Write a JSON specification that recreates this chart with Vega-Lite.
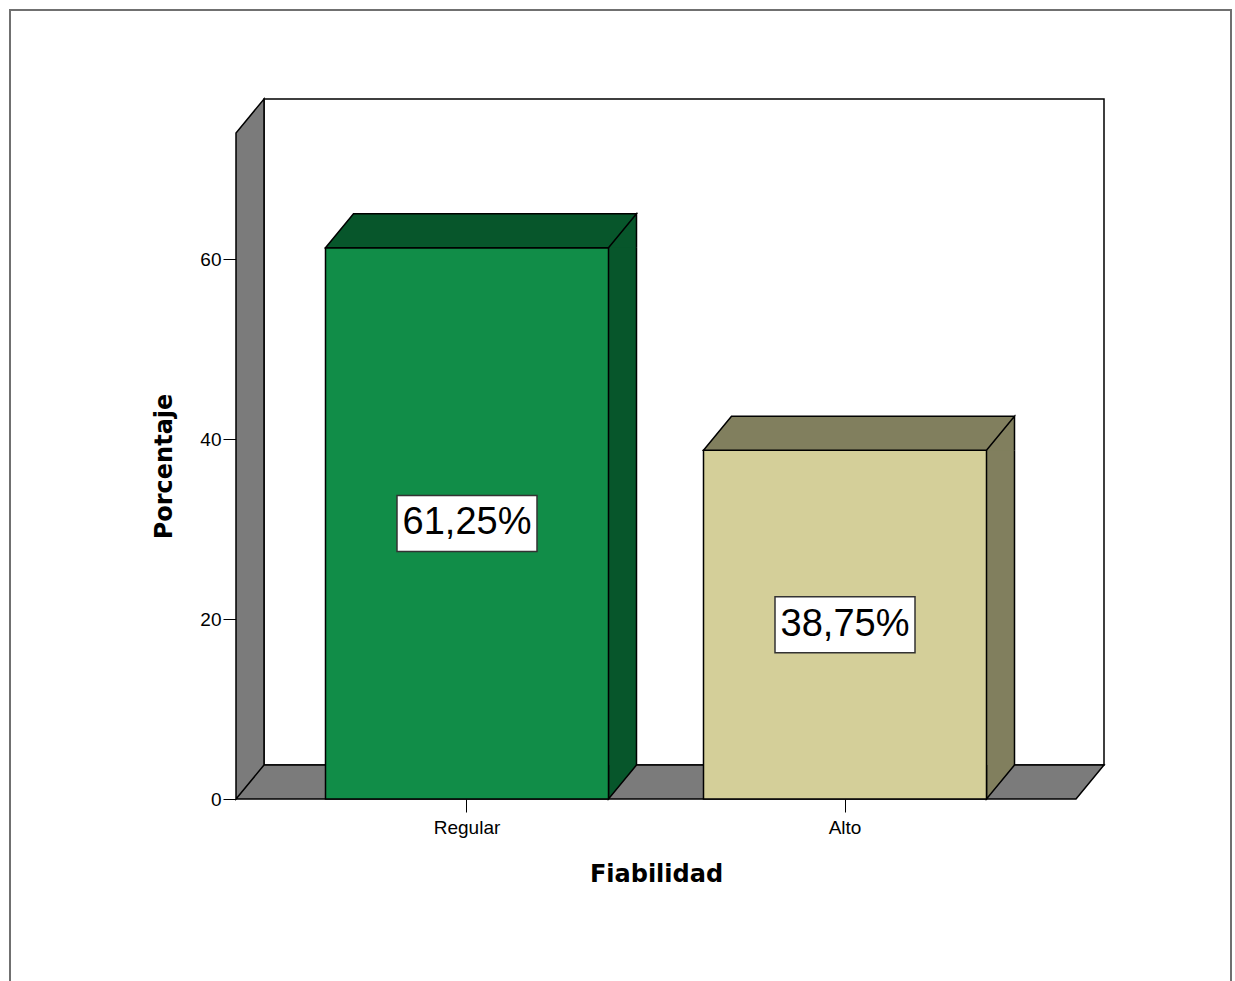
{
  "$schema": "https://vega.github.io/schema/vega-lite/v6.json",
  "width": 840,
  "height": 666,
  "autosize": {"type": "none"},
  "padding": {"left": 236, "top": 133, "right": 159, "bottom": 182},
  "background": "#ffffff",
  "config": {
    "view": {"stroke": null},
    "locale": {
      "number": {"decimal": ",", "thousands": ".", "grouping": [3], "currency": ["", "%"]}
    }
  },
  "data": {
    "values": [
      {"Fiabilidad": "Regular", "Porcentaje": 61.25},
      {"Fiabilidad": "Alto", "Porcentaje": 38.75}
    ]
  },
  "layer": [
    {
      "layer": [
        {
          "data": {"values": [{}]},
          "mark": {"type": "rect", "fill": null, "stroke": "#707070", "strokeWidth": 2, "xOffset": -226, "x2Offset": 155, "yOffset": -123, "y2Offset": 200},
          "encoding": {"x": {"value": 0}, "x2": {"value": "width"}, "y": {"value": 0}, "y2": {"value": "height"}}
        },
        {
          "data": {"values": [{}]},
          "mark": {"type": "rect", "fill": "#ffffff", "stroke": "#000000", "strokeWidth": 1.5, "xOffset": 28, "x2Offset": 28, "yOffset": -34, "y2Offset": -34},
          "encoding": {"x": {"value": 0}, "x2": {"value": "width"}, "y": {"value": 0}, "y2": {"value": "height"}}
        },
        {
          "data": {"values": [{}]},
          "mark": {"type": "point", "shape": "M0,0L28,-34L28,-700L0,-666ZM0,0L28,-34L868,-34L840,0Z", "size": 4, "filled": true, "fill": "#7b7b7b", "stroke": "#000000", "strokeWidth": 1.5, "opacity": 1, "strokeJoin": "miter"},
          "encoding": {"x": {"value": 0}, "y": {"value": "height"}}
        },
        {
          "mark": {"type": "rule", "strokeWidth": 28, "strokeCap": "butt", "xOffset": 155.5, "yOffset": -1, "y2Offset": -34},
          "encoding": {
            "x": {"field": "Fiabilidad", "type": "nominal"},
            "y": {"field": "Porcentaje", "type": "quantitative"},
            "y2": {"datum": 0},
            "stroke": {"condition": {"test": "datum.Fiabilidad === 'Regular'", "value": "#07562b"}, "value": "#817f5e"}
          }
        },
        {
          "mark": {"type": "point", "shape": "M141.5,-34L141.5,0L169.5,-34", "size": 4, "filled": true, "stroke": "#000000", "strokeWidth": 1.5, "opacity": 1},
          "encoding": {
            "x": {"field": "Fiabilidad", "type": "nominal"},
            "y": {"datum": 0},
            "fill": {"condition": {"test": "datum.Fiabilidad === 'Regular'", "value": "#07562b"}, "value": "#817f5e"}
          }
        },
        {
          "mark": {"type": "bar", "stroke": "#000000", "strokeWidth": 1.5},
          "encoding": {
            "x": {
              "field": "Fiabilidad",
              "type": "nominal",
              "scale": {"domain": ["Regular", "Alto"], "paddingInner": 0.251323, "paddingOuter": 0.236772},
              "axis": {
                "title": "Fiabilidad",
                "domain": false,
                "grid": false,
                "labelAngle": 0,
                "labelAlign": "center",
                "tickSize": 13,
                "tickColor": "#000000",
                "labelFont": "Liberation Sans",
                "labelFontSize": 19,
                "labelColor": "#000000",
                "labelPadding": 15,
                "titleFont": "DejaVu Sans",
                "titleFontSize": 24,
                "titleFontWeight": "bold",
                "titleColor": "#000000",
                "titlePadding": 25
              }
            },
            "y": {
              "field": "Porcentaje",
              "type": "quantitative",
              "scale": {"domain": [0, 74], "nice": false},
              "axis": {
                "title": "Porcentaje",
                "values": [0, 20, 40, 60],
                "domain": false,
                "grid": false,
                "tickSize": 13,
                "tickColor": "#000000",
                "labelFont": "Liberation Sans",
                "labelFontSize": 19,
                "labelColor": "#000000",
                "labelPadding": 2,
                "titleFont": "DejaVu Sans",
                "titleFontSize": 24,
                "titleFontWeight": "bold",
                "titleColor": "#000000",
                "titlePadding": 23
              }
            },
            "fill": {"condition": {"test": "datum.Fiabilidad === 'Regular'", "value": "#118d48"}, "value": "#d4cf99"}
          }
        },
        {
          "mark": {"type": "point", "shape": "M-141.5,0L-113.5,-34L169.5,-34L141.5,0ZM141.5,0L169.5,-34L169.5,0", "size": 4, "filled": true, "stroke": "#000000", "strokeWidth": 1.5, "opacity": 1, "strokeJoin": "miter"},
          "encoding": {
            "x": {"field": "Fiabilidad", "type": "nominal"},
            "y": {"field": "Porcentaje", "type": "quantitative"},
            "fill": {"condition": {"test": "datum.Fiabilidad === 'Regular'", "value": "#07562b"}, "value": "#817f5e"}
          }
        },
        {
          "mark": {"type": "rule", "stroke": "#000000", "strokeWidth": 1.5, "xOffset": 169.5, "y2Offset": -34},
          "encoding": {
            "x": {"field": "Fiabilidad", "type": "nominal"},
            "y": {"field": "Porcentaje", "type": "quantitative"},
            "y2": {"datum": 0}
          }
        }
      ]
    },
    {
      "encoding": {
        "x": {"field": "Fiabilidad", "type": "nominal"},
        "y": {"field": "Porcentaje", "type": "quantitative", "scale": {"domain": [0, 148], "nice": false}, "axis": null}
      },
      "layer": [
        {
          "mark": {"type": "point", "shape": "M-70,-28L70,-28L70,28L-70,28Z", "size": 4, "filled": true, "fill": "#ffffff", "stroke": "#333333", "strokeWidth": 1.5, "opacity": 1}
        },
        {
          "mark": {"type": "text", "font": "Liberation Sans", "fontSize": 38, "fill": "#000000", "align": "center", "baseline": "middle"},
          "encoding": {"text": {"field": "Porcentaje", "type": "quantitative", "format": "$.2f"}}
        }
      ]
    }
  ],
  "resolve": {"scale": {"y": "independent"}}
}
